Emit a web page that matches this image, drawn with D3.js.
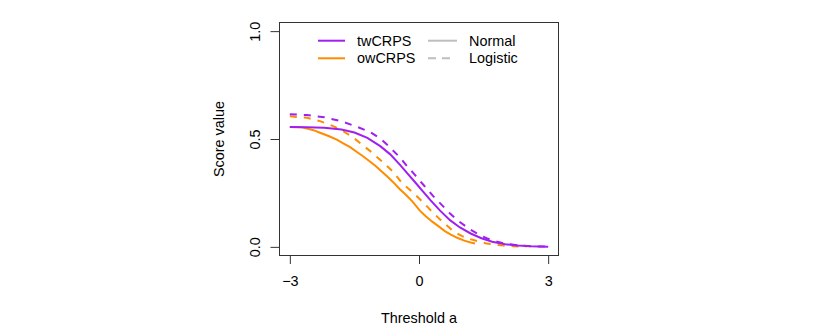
<!DOCTYPE html>
<html>
<head>
<meta charset="utf-8">
<script src="https://cdn.jsdelivr.net/npm/d3@7"></script>
<style>
  body { margin: 0; background: #fff; }
  text { font-family: "Liberation Sans", Arial, Helvetica, sans-serif; fill: #000; }
</style>
</head>
<body>
<svg id="plot"></svg>
<script>
// thresholds and score values
var twX = [-3, -2.6, -2.2, -1.8, -1.5, -1.2, -0.9, -0.674, -0.44, -0.26, -0.07, 0.1, 0.26, 0.49, 0.72, 0.95, 1.2, 1.45, 1.7, 2.0, 2.3, 2.6, 3];
var twNormal = [0.556, 0.555, 0.552, 0.544, 0.53, 0.505, 0.467, 0.43, 0.38, 0.338, 0.295, 0.255, 0.218, 0.168, 0.124, 0.09, 0.062, 0.04, 0.024, 0.012, 0.006, 0.003, 0.001];
var twLX = [-3, -2.6, -2.2, -1.8, -1.5, -1.14, -0.9, -0.71, -0.44, -0.26, -0.13, 0.1, 0.33, 0.55, 0.72, 0.9, 1.19, 1.4, 1.57, 1.8, 1.96, 2.3, 2.6, 3];
var twLogistic = [0.615, 0.611, 0.601, 0.582, 0.561, 0.533, 0.502, 0.468, 0.414, 0.37, 0.342, 0.288, 0.235, 0.19, 0.155, 0.122, 0.08, 0.056, 0.04, 0.025, 0.017, 0.007, 0.003, 0.001];

var owNX = [-3, -2.75, -2.6, -2.45, -2.3, -2.1, -1.91, -1.75, -1.6, -1.45, -1.3, -1.14, -1.0, -0.9, -0.75, -0.6, -0.45, -0.3, -0.15, 0.02, 0.15, 0.3, 0.45, 0.6, 0.75, 0.9, 1.05, 1.2, 1.3];
var owNormal = [0.556, 0.555, 0.548, 0.541, 0.529, 0.514, 0.497, 0.479, 0.462, 0.441, 0.42, 0.396, 0.374, 0.355, 0.328, 0.3, 0.268, 0.24, 0.21, 0.168, 0.143, 0.118, 0.096, 0.073, 0.056, 0.041, 0.029, 0.02, 0.016];
var owLX = [-3, -2.6, -2.3, -2.07, -1.84, -1.53, -1.14, -0.83, -0.6, -0.4, -0.13, 0.1, 0.33, 0.49, 0.8, 1.0, 1.19, 1.4, 1.57, 1.8, 1.96, 2.2, 2.5];
var owLogistic = [0.605, 0.598, 0.583, 0.566, 0.546, 0.507, 0.445, 0.391, 0.348, 0.297, 0.25, 0.205, 0.158, 0.127, 0.072, 0.05, 0.036, 0.024, 0.016, 0.009, 0.006, 0.003, 0.001];

var xTicks = [-3, 0, 3];
var yTicks = [0, 0.5, 1];
var legendNames = ["twCRPS", "owCRPS"];
var legendDists = ["Normal", "Logistic"];

var purple = "#A020F0", orange = "#FF8C00", grey = "#BEBEBE";

var svg = d3.select("#plot").attr("width", 830).attr("height", 328);

var box = {left: 279.5, right: 558.5, top: 22.5, bottom: 255.5};

var x = d3.scaleLinear().domain([-3.24, 3.24]).range([box.left, box.right]);
var y = d3.scaleLinear().domain([-0.04, 1.04]).range([box.bottom, box.top]);

// plot box
svg.append("rect")
  .attr("x", box.left).attr("y", box.top)
  .attr("width", box.right - box.left).attr("height", box.bottom - box.top)
  .attr("fill", "none").attr("stroke", "#333").attr("stroke-width", 1);

// x axis
var gx = svg.append("g")
  .attr("transform", "translate(0," + box.bottom + ")")
  .call(d3.axisBottom(x).tickValues(xTicks).tickSize(8.5).tickPadding(12)
    .tickFormat(function(d){ return d < 0 ? "\u2212" + Math.abs(d) : d; }));
gx.select(".domain").attr("d", "M" + x(-3) + ",0H" + x(3)).attr("stroke", "#333");
gx.selectAll(".tick line").attr("stroke", "#333");
gx.selectAll("text").style("font-size", "14.4px").attr("font-family", null);

// y axis
var gy = svg.append("g")
  .attr("transform", "translate(" + box.left + ",0)")
  .call(d3.axisLeft(y).tickValues(yTicks).tickSize(9).tickFormat(d3.format(".1f")));
gy.select(".domain").attr("d", "M0," + y(0) + "V" + y(1)).attr("stroke", "#333");
gy.selectAll(".tick line").attr("stroke", "#333");
gy.selectAll("text")
  .attr("x", null).attr("dy", null)
  .attr("transform", "translate(-23,0) rotate(-90)")
  .attr("text-anchor", "middle")
  .attr("dominant-baseline", "middle")
  .attr("font-family", null)
  .style("font-size", "14.4px");

// axis titles
svg.append("text")
  .attr("x", x(0)).attr("y", 323)
  .attr("text-anchor", "middle")
  .style("font-size", "14.4px")
  .text("Threshold a");
svg.append("text")
  .attr("transform", "translate(224," + y(0.5) + ") rotate(-90)")
  .attr("text-anchor", "middle")
  .style("font-size", "14.4px")
  .text("Score value");

var line = d3.line()
  .x(function(d){ return x(d[0]); })
  .y(function(d){ return y(d[1]); });

function pairs(xs, ys){ return xs.map(function(v, i){ return [v, ys[i]]; }); }

var series = [
  {data: pairs(owLX, owLogistic), color: orange, dash: "7,7"},
  {data: pairs(owNX, owNormal), color: orange, dash: null},
  {data: pairs(twLX, twLogistic), color: purple, dash: "7,7"},
  {data: pairs(twX, twNormal), color: purple, dash: null}
];

svg.selectAll("path.curve")
  .data(series)
  .enter()
  .append("path")
  .attr("class", "curve")
  .attr("d", function(d){ return line(d.data); })
  .attr("fill", "none")
  .attr("stroke", function(d){ return d.color; })
  .attr("stroke-width", 2)
  .attr("stroke-dasharray", function(d){ return d.dash; });

// legend
var legRows = [40.7, 58.3];
var leg = svg.append("g");
legendNames.forEach(function(name, i){
  leg.append("line")
    .attr("x1", 318).attr("x2", 345)
    .attr("y1", legRows[i]).attr("y2", legRows[i])
    .attr("stroke", i === 0 ? purple : orange).attr("stroke-width", 2);
  leg.append("text")
    .attr("x", 357).attr("y", legRows[i]).attr("dy", "0.36em")
    .style("font-size", "14.4px")
    .text(name);
});
legendDists.forEach(function(name, i){
  leg.append("line")
    .attr("x1", 428).attr("x2", i === 0 ? 457 : 450)
    .attr("y1", legRows[i]).attr("y2", legRows[i])
    .attr("stroke", grey).attr("stroke-width", 2)
    .attr("stroke-dasharray", i === 0 ? null : "8,6");
  leg.append("text")
    .attr("x", 469).attr("y", legRows[i]).attr("dy", "0.36em")
    .style("font-size", "14.4px")
    .text(name);
});
</script>
</body>
</html>
